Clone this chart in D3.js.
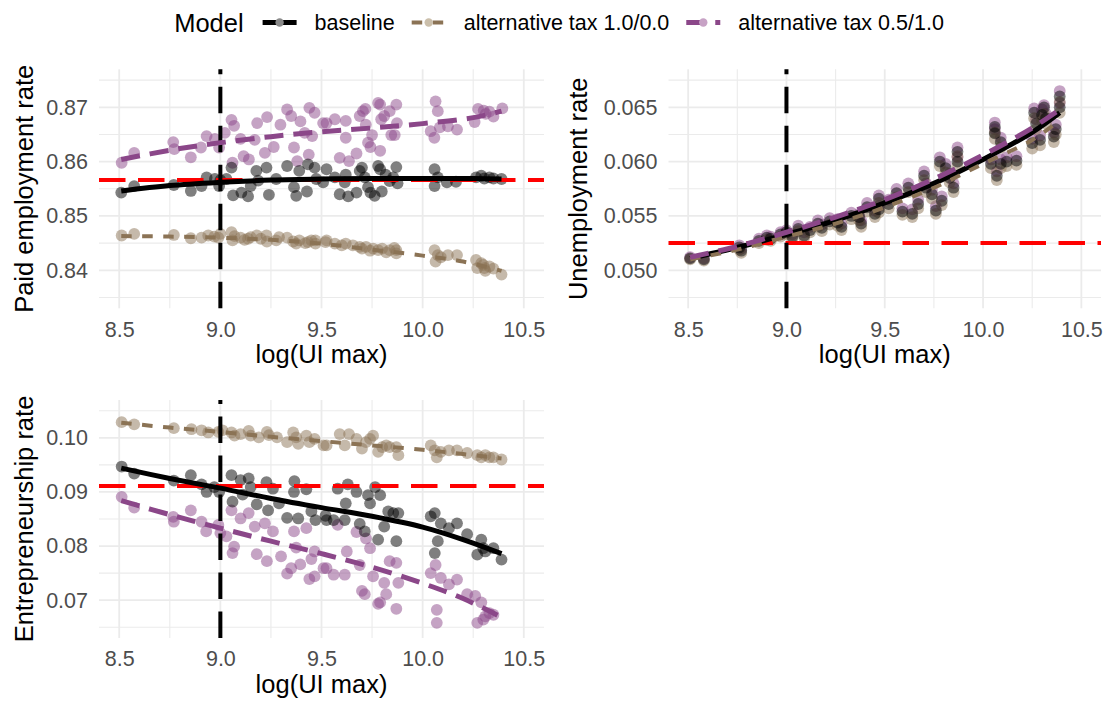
<!DOCTYPE html>
<html>
<head>
<meta charset="utf-8">
<script src="https://cdn.jsdelivr.net/npm/d3@7"></script>
<style>
  html, body { margin: 0; padding: 0; background: #ffffff; }
  svg { display: block; font-family: "Liberation Sans", Arial, Helvetica, sans-serif; }
</style>
</head>
<body>
<svg id="chart" width="1108" height="705"></svg>
<script>
// ---------- data ----------
const models = ["baseline", "alternative tax 1.0/0.0", "alternative tax 0.5/1.0"];
const xTicks = [8.5, 9.0, 9.5, 10.0, 10.5];
const xMinor = [8.75, 9.25, 9.75, 10.25];
const paidTicks = [0.84, 0.85, 0.86, 0.87];
const unempTicks = [0.050, 0.055, 0.060, 0.065];
const entreTicks = [0.07, 0.08, 0.09, 0.10];
const refX = 9.0;
const paidRef = 0.8566;
const unempRef = 0.0525;
const entreRef = 0.0911;

// Paid employment rate, [log(UI max), rate]
const paidBase = [[8.51,0.8543],[8.574,0.8555],[8.77,0.8557],[8.854,0.8546],[8.907,0.8555],[8.932,0.8571],[8.973,0.8568],[8.994,0.8555],[9.0,0.8566],[9.03,0.8568],[9.055,0.8589],[9.063,0.8538],[9.104,0.8543],[9.137,0.8536],[9.15,0.8555],[9.178,0.8583],[9.187,0.8565],[9.228,0.8589],[9.24,0.8539],[9.276,0.8568],[9.33,0.8592],[9.364,0.8553],[9.375,0.8537],[9.39,0.8583],[9.428,0.8545],[9.433,0.8595],[9.466,0.8589],[9.474,0.8568],[9.508,0.8562],[9.525,0.8586],[9.566,0.8571],[9.59,0.854],[9.62,0.8576],[9.632,0.8536],[9.615,0.8562],[9.673,0.8543],[9.689,0.8583],[9.70,0.8589],[9.714,0.8571],[9.73,0.8553],[9.742,0.8543],[9.763,0.8537],[9.78,0.8592],[9.79,0.8586],[9.798,0.8545],[9.817,0.8576],[9.837,0.8564],[9.855,0.8571],[9.87,0.859],[9.876,0.856],[10.059,0.8586],[10.059,0.8555],[10.075,0.8571],[10.12,0.8562],[10.165,0.8563],[10.264,0.8571],[10.29,0.8574],[10.305,0.8569],[10.33,0.8571],[10.35,0.8569],[10.39,0.8568]];
const paidTax10 = [[8.512,0.8464],[8.574,0.8467],[8.77,0.8465],[8.854,0.8459],[8.907,0.846],[8.94,0.8464],[8.97,0.8462],[8.99,0.846],[9.0,0.8467],[9.055,0.847],[9.06,0.8455],[9.07,0.8463],[9.1,0.846],[9.12,0.8456],[9.137,0.8458],[9.15,0.8461],[9.18,0.8464],[9.2,0.8458],[9.228,0.8464],[9.23,0.8453],[9.276,0.8455],[9.29,0.8461],[9.33,0.846],[9.36,0.8453],[9.375,0.8449],[9.39,0.8455],[9.42,0.845],[9.433,0.8452],[9.45,0.8455],[9.47,0.8449],[9.47,0.8455],[9.52,0.8452],[9.525,0.8455],[9.566,0.8449],[9.6,0.8446],[9.62,0.8449],[9.655,0.8446],[9.689,0.8443],[9.7,0.844],[9.72,0.8443],[9.74,0.8436],[9.755,0.844],[9.78,0.8437],[9.8,0.844],[9.82,0.8433],[9.837,0.8437],[9.86,0.8441],[9.87,0.8437],[9.87,0.8431],[10.059,0.8437],[10.064,0.8416],[10.075,0.8428],[10.09,0.8424],[10.125,0.8428],[10.17,0.8428],[10.264,0.8419],[10.27,0.8404],[10.29,0.8413],[10.3,0.841],[10.305,0.8404],[10.31,0.8399],[10.33,0.8407],[10.35,0.8403],[10.39,0.8392]];
const paidTax05 = [[8.512,0.8598],[8.574,0.8616],[8.767,0.8636],[8.772,0.8623],[8.854,0.8608],[8.904,0.8626],[8.932,0.8647],[8.973,0.8642],[8.994,0.8626],[9.022,0.8653],[9.055,0.8677],[9.068,0.8666],[9.06,0.8598],[9.1,0.8642],[9.115,0.861],[9.141,0.8604],[9.17,0.864],[9.182,0.8671],[9.231,0.8682],[9.22,0.8616],[9.264,0.8627],[9.297,0.8668],[9.33,0.8696],[9.35,0.8684],[9.364,0.8626],[9.38,0.8601],[9.396,0.8674],[9.417,0.8653],[9.437,0.8613],[9.44,0.8699],[9.466,0.869],[9.454,0.8647],[9.508,0.8671],[9.525,0.8671],[9.566,0.8678],[9.62,0.8675],[9.62,0.8644],[9.59,0.8607],[9.636,0.8601],[9.673,0.8615],[9.689,0.8684],[9.705,0.8693],[9.717,0.8697],[9.719,0.8668],[9.73,0.8635],[9.742,0.8627],[9.75,0.8649],[9.78,0.8708],[9.79,0.8705],[9.795,0.8678],[9.81,0.8684],[9.837,0.8693],[9.845,0.8649],[9.862,0.8649],[9.873,0.8671],[9.87,0.8705],[9.79,0.862],[10.064,0.8711],[10.075,0.8693],[10.04,0.8656],[10.058,0.8644],[10.085,0.8663],[10.125,0.8665],[10.17,0.8659],[10.257,0.8673],[10.274,0.8697],[10.302,0.8694],[10.312,0.8688],[10.33,0.8692],[10.35,0.8683],[10.394,0.8698]];

// Unemployment rate, shared log(UI max) grid
const unempX = [8.51,8.58,8.76,8.77,8.86,8.90,8.92,8.97,9.00,9.03,9.06,9.09,9.12,9.16,9.18,9.22,9.26,9.28,9.33,9.37,9.38,9.41,9.45,9.47,9.47,9.52,9.56,9.59,9.62,9.64,9.67,9.70,9.71,9.74,9.76,9.79,9.78,9.81,9.83,9.85,9.87,9.87,10.04,10.06,10.06,10.07,10.09,10.09,10.12,10.17,10.25,10.26,10.27,10.29,10.30,10.31,10.32,10.36,10.37,10.39,10.39];
const unempBase = [0.0511,0.0510,0.0521,0.0518,0.0527,0.0530,0.0529,0.0533,0.0535,0.0531,0.0538,0.0532,0.0537,0.0543,0.0539,0.0545,0.0544,0.0540,0.0550,0.0549,0.0543,0.0558,0.0552,0.0566,0.0556,0.0561,0.0571,0.0554,0.0576,0.0552,0.0561,0.0587,0.0576,0.0570,0.0555,0.0564,0.0600,0.0594,0.0585,0.0576,0.0609,0.0600,0.0598,0.0632,0.0626,0.0587,0.0598,0.0618,0.0600,0.0601,0.0617,0.0645,0.0635,0.0620,0.0643,0.0650,0.0640,0.0623,0.0630,0.0660,0.0650];
const unempTax10 = [0.0510,0.0509,0.0519,0.0516,0.0525,0.0528,0.0527,0.0531,0.0533,0.0529,0.0536,0.0530,0.0535,0.0540,0.0536,0.0542,0.0541,0.0537,0.0547,0.0546,0.0540,0.0554,0.0549,0.0562,0.0553,0.0557,0.0567,0.0551,0.0572,0.0549,0.0557,0.0583,0.0572,0.0566,0.0552,0.0560,0.0596,0.0590,0.0581,0.0572,0.0605,0.0596,0.0594,0.0627,0.0621,0.0583,0.0594,0.0613,0.0596,0.0597,0.0612,0.0640,0.0630,0.0615,0.0638,0.0644,0.0635,0.0618,0.0625,0.0655,0.0645];
const unempTax05 = [0.0512,0.0511,0.0523,0.0520,0.0529,0.0532,0.0531,0.0535,0.0537,0.0533,0.0541,0.0535,0.0540,0.0546,0.0542,0.0548,0.0547,0.0543,0.0553,0.0552,0.0546,0.0562,0.0555,0.0569,0.0559,0.0565,0.0575,0.0557,0.0580,0.0556,0.0565,0.0591,0.0580,0.0574,0.0559,0.0568,0.0604,0.0598,0.0589,0.0580,0.0613,0.0604,0.0602,0.0636,0.0630,0.0591,0.0602,0.0622,0.0604,0.0605,0.0621,0.0649,0.0639,0.0624,0.0648,0.0652,0.0644,0.0627,0.0634,0.0665,0.0654];

// Entrepreneurship rate, [log(UI max), rate]
const entreBase = [[8.512,0.0947],[8.574,0.0934],[8.77,0.0921],[8.854,0.0931],[8.907,0.0914],[8.932,0.09],[8.97,0.0909],[8.994,0.09],[9.055,0.0931],[9.06,0.0882],[9.1,0.0922],[9.11,0.0895],[9.14,0.0925],[9.15,0.0909],[9.18,0.0877],[9.228,0.0918],[9.236,0.0866],[9.26,0.0906],[9.29,0.0879],[9.33,0.0852],[9.366,0.092],[9.364,0.09],[9.385,0.0851],[9.425,0.0905],[9.45,0.0864],[9.47,0.0848],[9.52,0.0856],[9.525,0.0848],[9.58,0.0906],[9.63,0.0914],[9.673,0.09],[9.62,0.0879],[9.615,0.0848],[9.56,0.0848],[9.689,0.0841],[9.714,0.0827],[9.73,0.0894],[9.74,0.0879],[9.765,0.0909],[9.78,0.0812],[9.79,0.0894],[9.81,0.0836],[9.83,0.0864],[9.855,0.0861],[9.88,0.0861],[9.87,0.0809],[10.04,0.0855],[10.06,0.0861],[10.075,0.0809],[10.06,0.0787],[10.09,0.0842],[10.13,0.0833],[10.17,0.0842],[10.22,0.0822],[10.27,0.0784],[10.29,0.0812],[10.3,0.0796],[10.31,0.079],[10.35,0.0796],[10.39,0.0775]];
const entreTax10 = [[8.512,0.1029],[8.574,0.1025],[8.77,0.1018],[8.857,0.1016],[8.907,0.1014],[8.94,0.101],[8.99,0.1011],[9.01,0.1014],[9.055,0.101],[9.07,0.1004],[9.1,0.1007],[9.14,0.1013],[9.15,0.1004],[9.19,0.1001],[9.23,0.1011],[9.24,0.1005],[9.28,0.1001],[9.33,0.0992],[9.36,0.101],[9.375,0.1001],[9.385,0.0989],[9.425,0.1004],[9.44,0.0992],[9.466,0.0998],[9.51,0.0986],[9.525,0.0986],[9.59,0.1007],[9.615,0.0986],[9.636,0.1007],[9.673,0.0998],[9.70,0.098],[9.72,0.0992],[9.74,0.0998],[9.755,0.1004],[9.78,0.0974],[9.8,0.0983],[9.82,0.0986],[9.837,0.0983],[9.87,0.0983],[9.88,0.0968],[10.04,0.0986],[10.06,0.0977],[10.07,0.0964],[10.09,0.0974],[10.13,0.0977],[10.17,0.0977],[10.22,0.0972],[10.27,0.0968],[10.29,0.0964],[10.31,0.0968],[10.33,0.0964],[10.35,0.0964],[10.39,0.096]];
const entreTax05 = [[8.512,0.0891],[8.574,0.0871],[8.767,0.0854],[8.77,0.0845],[8.854,0.0866],[8.907,0.0845],[8.93,0.0827],[8.99,0.0839],[9.0,0.0824],[9.03,0.0818],[9.055,0.0866],[9.068,0.0799],[9.06,0.0787],[9.1,0.0851],[9.14,0.0861],[9.17,0.0836],[9.18,0.0785],[9.22,0.0842],[9.23,0.0772],[9.26,0.0827],[9.3,0.0781],[9.33,0.0749],[9.35,0.0759],[9.364,0.0827],[9.375,0.0797],[9.395,0.0766],[9.425,0.0833],[9.45,0.0776],[9.44,0.0739],[9.466,0.0744],[9.466,0.079],[9.51,0.0759],[9.525,0.0759],[9.56,0.0747],[9.615,0.0747],[9.625,0.079],[9.58,0.0839],[9.673,0.0826],[9.689,0.0765],[9.70,0.0717],[9.714,0.0711],[9.72,0.0814],[9.74,0.0796],[9.755,0.0744],[9.78,0.0693],[9.79,0.0696],[9.81,0.0732],[9.82,0.0711],[9.837,0.0772],[9.87,0.0769],[9.87,0.0684],[9.88,0.0732],[10.04,0.075],[10.064,0.0765],[10.07,0.0682],[10.07,0.0658],[10.09,0.0741],[10.13,0.0729],[10.17,0.0738],[10.22,0.0711],[10.26,0.0708],[10.27,0.0658],[10.29,0.0696],[10.3,0.0664],[10.31,0.067],[10.33,0.0676],[10.35,0.0673]];

// Smoothed fits, [log(UI max), rate]
const paidFitBase = [[8.51,0.8546],[8.75,0.8556],[9.0,0.8562],[9.25,0.8566],[9.5,0.8568],[9.75,0.8569],[10.0,0.8569],[10.25,0.8569],[10.39,0.8568]];
const paidFitTax10 = [[8.51,0.8463],[8.75,0.8462],[9.0,0.846],[9.25,0.8456],[9.5,0.8449],[9.75,0.8438],[10.0,0.8427],[10.2,0.8416],[10.39,0.8399]];
const paidFitTax05 = [[8.51,0.8604],[8.75,0.8621],[9.0,0.8635],[9.25,0.8646],[9.5,0.8655],[9.75,0.8662],[10.0,0.867],[10.25,0.8681],[10.39,0.8693]];
const unempFitBase = [[8.51,0.0511],[8.75,0.0521],[9.0,0.0533],[9.25,0.0546],[9.5,0.0562],[9.75,0.058],[10.0,0.0602],[10.25,0.0627],[10.39,0.0645]];
const unempFitTax10 = [[8.51,0.051],[8.75,0.0519],[9.0,0.0531],[9.25,0.0543],[9.5,0.0558],[9.75,0.0576],[10.0,0.0598],[10.25,0.062],[10.39,0.0638]];
const unempFitTax05 = [[8.51,0.0512],[8.75,0.0522],[9.0,0.0535],[9.25,0.0549],[9.5,0.0565],[9.75,0.0584],[10.0,0.0606],[10.25,0.0631],[10.39,0.0648]];
const entreFitBase = [[8.51,0.0944],[8.75,0.0925],[9.0,0.0907],[9.25,0.0888],[9.5,0.0871],[9.75,0.0855],[10.0,0.0835],[10.2,0.0812],[10.39,0.0786]];
const entreFitTax10 = [[8.51,0.1028],[8.75,0.1019],[9.0,0.1011],[9.25,0.1002],[9.5,0.0994],[9.75,0.0986],[10.0,0.0978],[10.2,0.097],[10.39,0.0962]];
const entreFitTax05 = [[8.51,0.0884],[8.75,0.0858],[9.0,0.0833],[9.25,0.0809],[9.5,0.0786],[9.75,0.0761],[10.0,0.0731],[10.2,0.0703],[10.37,0.0672]];

// ---------- styling ----------
const modelColors = ["#000000", "#8B7355", "#8B4789"];
const modelKeyFill = ["#8a8a8a", "#cbbfab", "#c7a2c5"];
const fitDash = [null, "10.5 10.5", "19 10"];
const fitWidth = [5, 4, 5];
const pointAlpha = 0.5;
const pointRadius = 5.9;
const gridColor = "#ebebeb";
const tickColor = "#4d4d4d";
const smallFont = 21.5;
const largeFont = 25.5;

const svg = d3.select("#chart");

const panels = [
  {
    title: "Paid employment rate", plotLeft: 0,
    left: 99, right: 544, top: 69.3, bottom: 308.3,
    yDomain: [0.833, 0.877], yTicks: paidTicks, fmt: ".2f", ref: paidRef,
    points: [paidBase, paidTax10, paidTax05],
    fits: [paidFitBase, paidFitTax10, paidFitTax05]
  },
  {
    title: "Unemployment rate", plotLeft: 554,
    left: 668.5, right: 1101, top: 69.3, bottom: 308.3,
    yDomain: [0.0465, 0.0685], yTicks: unempTicks, fmt: ".3f", ref: unempRef,
    points: [unempBase, unempTax10, unempTax05].map(ys => ys.map((v, i) => [unempX[i], v])),
    fits: [unempFitBase, unempFitTax10, unempFitTax05]
  },
  {
    title: "Entrepreneurship rate", plotLeft: 0,
    left: 99, right: 544, top: 400, bottom: 638,
    yDomain: [0.063, 0.107], yTicks: entreTicks, fmt: ".2f", ref: entreRef,
    points: [entreBase, entreTax10, entreTax05],
    fits: [entreFitBase, entreFitTax10, entreFitTax05]
  }
];

function drawPanel(p) {
  const g = svg.append("g");
  const x = d3.scaleLinear().domain([8.4, 10.6]).range([p.left, p.right]);
  const y = d3.scaleLinear().domain(p.yDomain).range([p.bottom, p.top]);
  const step = p.yTicks[1] - p.yTicks[0];
  const yMinor = [p.yTicks[0] - step / 2].concat(p.yTicks.map(t => t + step / 2));

  // grid: minor first, then major
  const grid = g.append("g");
  grid.selectAll(".vminor").data(xMinor).join("line")
    .attr("x1", d => x(d)).attr("x2", d => x(d))
    .attr("y1", p.top).attr("y2", p.bottom)
    .attr("stroke", gridColor).attr("stroke-width", 1.1);
  grid.selectAll(".hminor").data(yMinor).join("line")
    .attr("x1", p.left).attr("x2", p.right)
    .attr("y1", d => y(d)).attr("y2", d => y(d))
    .attr("stroke", gridColor).attr("stroke-width", 1.1);
  grid.selectAll(".vmajor").data(xTicks).join("line")
    .attr("x1", d => x(d)).attr("x2", d => x(d))
    .attr("y1", p.top).attr("y2", p.bottom)
    .attr("stroke", gridColor).attr("stroke-width", 1.8);
  grid.selectAll(".hmajor").data(p.yTicks).join("line")
    .attr("x1", p.left).attr("x2", p.right)
    .attr("y1", d => y(d)).attr("y2", d => y(d))
    .attr("stroke", gridColor).attr("stroke-width", 1.8);

  // points: the 0.5/1.0 model goes underneath, baseline on top
  [2, 1, 0].forEach(i => {
    g.append("g").selectAll("circle").data(p.points[i]).join("circle")
      .attr("cx", d => x(d[0])).attr("cy", d => y(d[1]))
      .attr("r", pointRadius)
      .attr("fill", modelColors[i]).attr("fill-opacity", pointAlpha);
  });

  // reference lines
  g.append("line")
    .attr("x1", p.left).attr("x2", p.right)
    .attr("y1", y(p.ref)).attr("y2", y(p.ref))
    .attr("stroke", "#ff0000").attr("stroke-width", 4)
    .attr("stroke-dasharray", "26.5 12.5");
  g.append("line")
    .attr("x1", x(refX)).attr("x2", x(refX))
    .attr("y1", p.bottom).attr("y2", p.top)
    .attr("stroke", "#000000").attr("stroke-width", 4)
    .attr("stroke-dasharray", "26.5 12.5");

  // smoothed fits
  const line = d3.line().x(d => x(d[0])).y(d => y(d[1])).curve(d3.curveCatmullRom.alpha(0.5));
  p.fits.forEach((f, i) => {
    g.append("path").datum(f)
      .attr("d", line)
      .attr("fill", "none")
      .attr("stroke", modelColors[i])
      .attr("stroke-width", fitWidth[i])
      .attr("stroke-dasharray", fitDash[i]);
  });

  // axes
  const gx = g.append("g").attr("transform", `translate(0,${p.bottom})`)
    .call(d3.axisBottom(x).tickValues(xTicks).tickFormat(d3.format(".1f")).tickSize(0).tickPadding(13));
  gx.select(".domain").remove();
  gx.attr("font-size", smallFont).attr("font-family", null);
  gx.selectAll("text").attr("fill", tickColor);

  const gy = g.append("g").attr("transform", `translate(${p.left},0)`)
    .call(d3.axisLeft(y).tickValues(p.yTicks).tickFormat(d3.format(p.fmt)).tickSize(0).tickPadding(11));
  gy.select(".domain").remove();
  gy.attr("font-size", smallFont).attr("font-family", null);
  gy.selectAll("text").attr("fill", tickColor);

  // axis titles
  g.append("text")
    .attr("x", (p.left + p.right) / 2).attr("y", p.bottom + 55)
    .attr("text-anchor", "middle").attr("font-size", largeFont).attr("fill", "#000")
    .text("log(UI max)");
  g.append("text")
    .attr("transform", `translate(${p.plotLeft + 33},${(p.top + p.bottom) / 2}) rotate(-90)`)
    .attr("text-anchor", "middle").attr("font-size", largeFont).attr("fill", "#000")
    .text(p.title);
}

panels.forEach(drawPanel);

// ---------- legend ----------
const legend = svg.append("g");
const keyW = 34;
const keyY = 22.5;
const lt = legend.append("text").attr("x", 0).attr("y", 31.5)
  .attr("font-size", largeFont).attr("fill", "#000").text("Model");
let cx = lt.node().getComputedTextLength() + 19;
models.forEach((m, i) => {
  const k = legend.append("g").attr("transform", `translate(${cx},${keyY})`);
  k.append("line").attr("x1", 0).attr("x2", keyW).attr("y1", 0).attr("y2", 0)
    .attr("stroke", modelColors[i]).attr("stroke-width", fitWidth[i])
    .attr("stroke-dasharray", fitDash[i]);
  k.append("circle").attr("cx", keyW / 2).attr("cy", 0).attr("r", 4.2)
    .attr("fill", modelKeyFill[i]);
  cx += keyW + 18;
  const t = legend.append("text").attr("x", cx).attr("y", 30)
    .attr("font-size", smallFont).attr("fill", "#000").text(m);
  cx += t.node().getComputedTextLength() + 17;
});
const legendW = cx - 17;
legend.attr("transform", `translate(${559 - legendW / 2},0)`);
</script>
</body>
</html>
